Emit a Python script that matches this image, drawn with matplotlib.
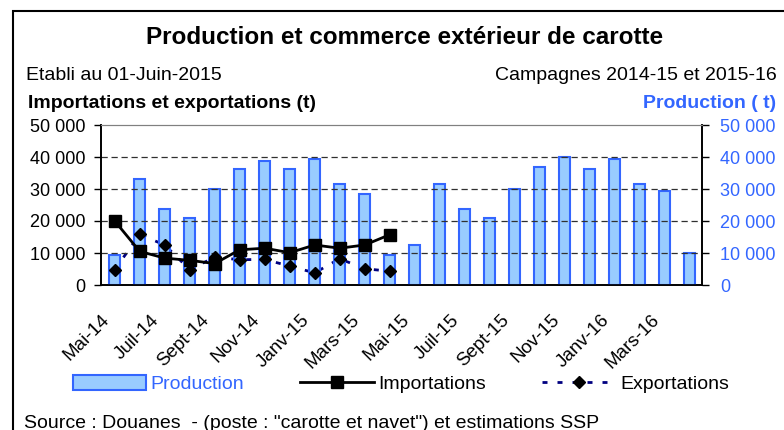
import numpy as np
import matplotlib
matplotlib.use('Agg')
import matplotlib.pyplot as plt
from matplotlib.patches import Rectangle, Patch
from matplotlib.lines import Line2D
from matplotlib.ticker import FuncFormatter

plt.rcParams['font.family'] = ['Liberation Sans', 'DejaVu Sans']

# données (t)
months = ['Mai-14', 'Juin-14', 'Juil-14', 'Août-14', 'Sept-14', 'Oct-14', 'Nov-14', 'Déc-14',
          'Janv-15', 'Févr-15', 'Mars-15', 'Avr-15', 'Mai-15', 'Juin-15', 'Juil-15', 'Août-15',
          'Sept-15', 'Oct-15', 'Nov-15', 'Déc-15', 'Janv-16', 'Févr-16', 'Mars-16', 'Avr-16']
production = [9500, 33200, 23900, 20900, 30100, 36200, 38600, 36200, 39300, 31700, 28500, 9500,
              12400, 31600, 23900, 20900, 30100, 37000, 40000, 36200, 39300, 31600, 29400, 10100]
importations = [20000, 10500, 8400, 7700, 6700, 11000, 11500, 10100, 12500, 11500, 12500, 15700]
exportations = [4800, 15800, 12500, 4800, 8700, 7900, 8000, 5900, 3800, 8200, 5100, 4300]

BLUE = '#3366FF'
FILL = '#99CCFF'
NAVY = '#000080'

fig = plt.figure(figsize=(7.84, 4.30), dpi=100)
ax = fig.add_axes([101 / 784, 1 - 285 / 430, 601 / 784, 160 / 430])
ax2 = ax.twinx()

x = np.arange(len(months))

# ordre de tracé : ligne export sous les barres, marqueurs au-dessus
ax.set_zorder(2)
ax.patch.set_visible(False)
ax2.set_zorder(1)

ax2.bar(x, production, width=0.44, color=FILL, edgecolor=BLUE, linewidth=1.5, zorder=3)
ax2.set_ylim(0, 50000)

ax2.plot(np.arange(len(exportations)), exportations, color=NAVY, lw=2,
         linestyle=(0, (1.8, 3.6)), zorder=2)
ax.plot(np.arange(len(importations)), importations, color='black', lw=2,
        marker='s', markersize=8, zorder=4)
ax.plot(np.arange(len(exportations)), exportations, linestyle='none',
        marker='D', markersize=6, color='black', zorder=5)

ax.set_ylim(0, 50000)
ax.set_xlim(-0.5, len(months) - 0.5)
fmt = FuncFormatter(lambda v, p: f"{int(v):,}".replace(',', ' '))
for a in (ax, ax2):
    a.set_yticks(np.arange(0, 50001, 10000))
    a.yaxis.set_major_formatter(fmt)
ax.tick_params(axis='y', labelsize=13, length=5, width=1, pad=6, colors='black')
ax2.tick_params(axis='y', labelsize=13, length=5, width=1, pad=8, labelcolor=BLUE)

# grille
for v in range(10000, 50000, 10000):
    ax.axhline(v, color='#303030', lw=0.9, linestyle=(0, (5, 3)), zorder=0)

# axe des x : graduations entre catégories, libellés un mois sur deux
ax.set_xticks(np.arange(-0.5, len(months), 2))
ax.set_xticklabels([])
ax.tick_params(axis='x', length=6, width=1, direction='out')
ax.set_xticks(np.arange(0, len(months), 2) - 0.55, minor=True)
ax.set_xticklabels(months[::2], minor=True, rotation=45, ha='right',
                   rotation_mode='anchor', fontsize=13.5)
ax.tick_params(axis='x', which='minor', length=0, pad=19)
ax2.set_xticks([])

for a in (ax, ax2):
    for s in ('left', 'right', 'bottom'):
        a.spines[s].set_color('black')
        a.spines[s].set_linewidth(1.2)
    a.spines['top'].set_color('#808080')

# textes
fig.text(405 / 784, 1 - 44 / 430, 'Production et commerce extérieur de carotte',
         ha='center', va='baseline', fontsize=17.5, fontweight='bold')
fig.text(26 / 784, 1 - 80 / 430, 'Etabli au 01-Juin-2015', ha='left', va='baseline', fontsize=14)
fig.text(777 / 784, 1 - 80 / 430, 'Campagnes 2014-15 et 2015-16', ha='right', va='baseline',
         fontsize=14)
fig.text(28 / 784, 1 - 108 / 430, 'Importations et exportations (t)', ha='left', va='baseline',
         fontsize=14, fontweight='bold')
fig.text(776 / 784, 1 - 108 / 430, 'Production ( t)', ha='right', va='baseline',
         fontsize=14, fontweight='bold', color=BLUE)
fig.text(24 / 784, 1 - 428 / 430, 'Source : Douanes  - (poste : "carotte et navet") et estimations SSP',
         ha='left', va='baseline', fontsize=14)

# légende
handles = [
    Patch(facecolor=FILL, edgecolor=BLUE, linewidth=1.5),
    Line2D([], [], color='black', lw=2, marker='s', markersize=8),
    Line2D([], [], color=NAVY, lw=2, linestyle=(0, (1.8, 3.6)), marker='D', markersize=6,
           markerfacecolor='black', markeredgecolor='black'),
]
leg = fig.legend(handles, ['Production', 'Importations', 'Exportations'], ncol=3,
                 loc='center left', bbox_to_anchor=(55 / 784, 1 - 384 / 430), frameon=False,
                 fontsize=14, handlelength=3.8, handleheight=0.8, handletextpad=0.2,
                 columnspacing=2.9)
leg.get_texts()[0].set_color(BLUE)

# cadre du graphique
fig.add_artist(Rectangle((13 / 784, -0.2), 1.2, 1.2 - 11 / 430, transform=fig.transFigure,
                         fill=False, edgecolor='black', linewidth=1.5))

fig.savefig('out.png', dpi=100)
